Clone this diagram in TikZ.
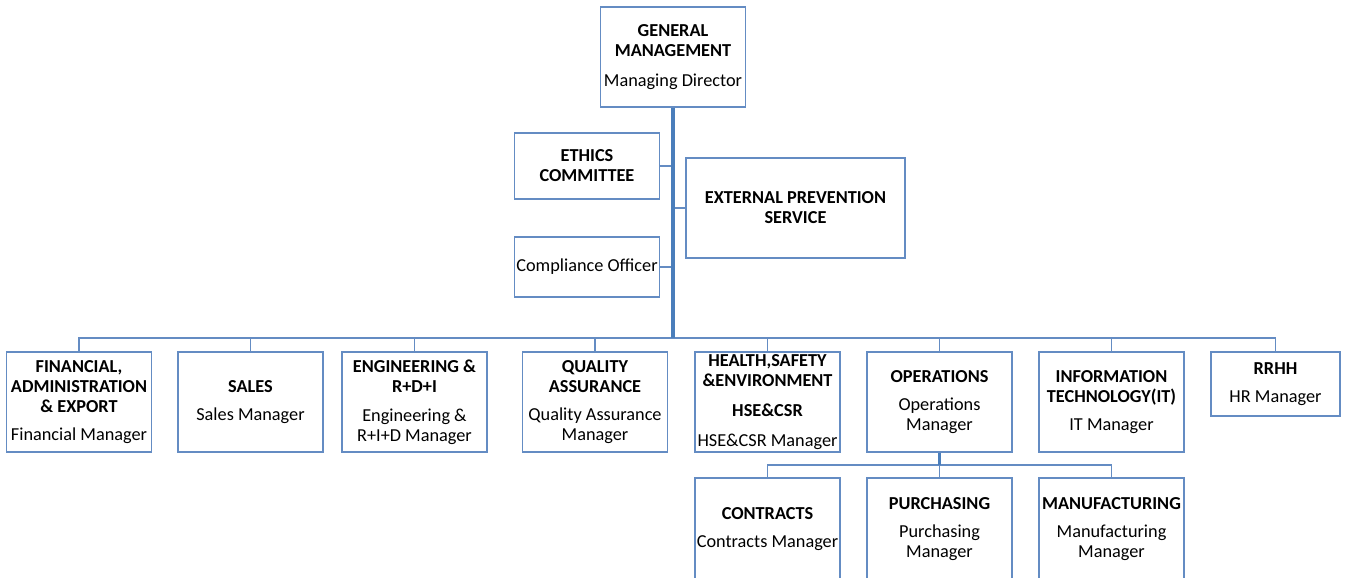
\documentclass[tikz,border=0pt]{standalone}
\usepackage{fontspec}
\setmainfont{Carlito}
\usetikzlibrary{positioning}
\definecolor{orgline}{RGB}{100,140,195}
\definecolor{orgtrunk}{RGB}{74,126,187}
\tikzset{
  unit/.style={draw=orgline, line width=1.1pt, align=center, inner sep=0.5pt,
    minimum width=109pt, minimum height=75pt, font=\fontsize{13.7}{15}\selectfont},
  link/.style={draw=orgline, line width=0.8pt},
  trunk/.style={draw=orgtrunk, line width=2.4pt},
}
\begin{document}
\begin{tikzpicture}[x=0.75pt, y=-0.75pt]
\useasboundingbox (0,0) rectangle (1346,578);
\clip (0,0) rectangle (1346,578);

% top of the chart
\node[unit] (gm) at (673,57) {\textbf{GENERAL}\\\textbf{MANAGEMENT}\\[7pt]Managing Director};
\node[unit, minimum height=49.5pt] (ethics) at (587,166) {\textbf{ETHICS}\\\textbf{COMMITTEE}};
\node[unit, minimum width=164pt] (ext) at (795.5,208) {\textbf{EXTERNAL PREVENTION}\\\textbf{SERVICE}};
\node[unit, minimum height=45pt] (comp) at (587,267) {Compliance Officer};
\coordinate (hub) at (673,338);

% departments
\node[unit] (fin) at (79,402) {\textbf{FINANCIAL,}\\\textbf{ADMINISTRATION}\\\textbf{\& EXPORT}\\[6.5pt]Financial Manager};
\node[unit] (sales) at (250.5,402) {\textbf{SALES}\\[6.5pt]Sales Manager};
\node[unit] (eng) at (414.5,402) {\textbf{ENGINEERING \&}\\\textbf{R+D+I}\\[6.5pt]Engineering \&\\R+I+D Manager};
\node[unit] (qa) at (595,402) {\textbf{QUALITY}\\\textbf{ASSURANCE}\\[6.5pt]Quality Assurance\\Manager};
\node[unit] (hse) at (767.5,402) {\textbf{HEALTH,SAFETY}\\\textbf{\&ENVIRONMENT}\\[7.5pt]\textbf{HSE\&CSR}\\[7.5pt]HSE\&CSR Manager};
\node[unit] (ops) at (939.5,402) {\textbf{OPERATIONS}\\[6.5pt]Operations\\Manager};
\node[unit] (it) at (1111.5,402) {\textbf{INFORMATION}\\\textbf{TECHNOLOGY(IT)}\\[6.5pt]IT Manager};
\node[unit, minimum width=96.75pt, minimum height=48pt] (rrhh) at (1275.5,384) {\textbf{RRHH}\\[6.5pt]HR Manager};
\coordinate (opshub) at (939.5,465);

% under operations
\node[unit, minimum height=76.5pt] (con) at (767.5,529) {\textbf{CONTRACTS}\\[6.5pt]Contracts Manager};
\node[unit, minimum height=76.5pt] (pur) at (939.5,529) {\textbf{PURCHASING}\\[6.5pt]Purchasing\\Manager};
\node[unit, minimum height=76.5pt] (man) at (1111.5,529) {\textbf{MANUFACTURING}\\[6.5pt]Manufacturing\\Manager};

% connectors
\draw[link] (ethics.east) -- (ethics.east -| hub);
\draw[link] (ext.west) -- (ext.west -| hub);
\draw[link] (comp.east) -- (comp.east -| hub);
\foreach \dep in {fin,sales,eng,qa,hse,ops,it,rrhh}
  \draw[link] (\dep.north) |- (hub);
\foreach \dep in {con,pur,man}
  \draw[link] (\dep.north) |- (opshub);
\draw[trunk] (gm.south) -- (hub);
\draw[trunk] (ops.south) -- (opshub);

\end{tikzpicture}
\end{document}
